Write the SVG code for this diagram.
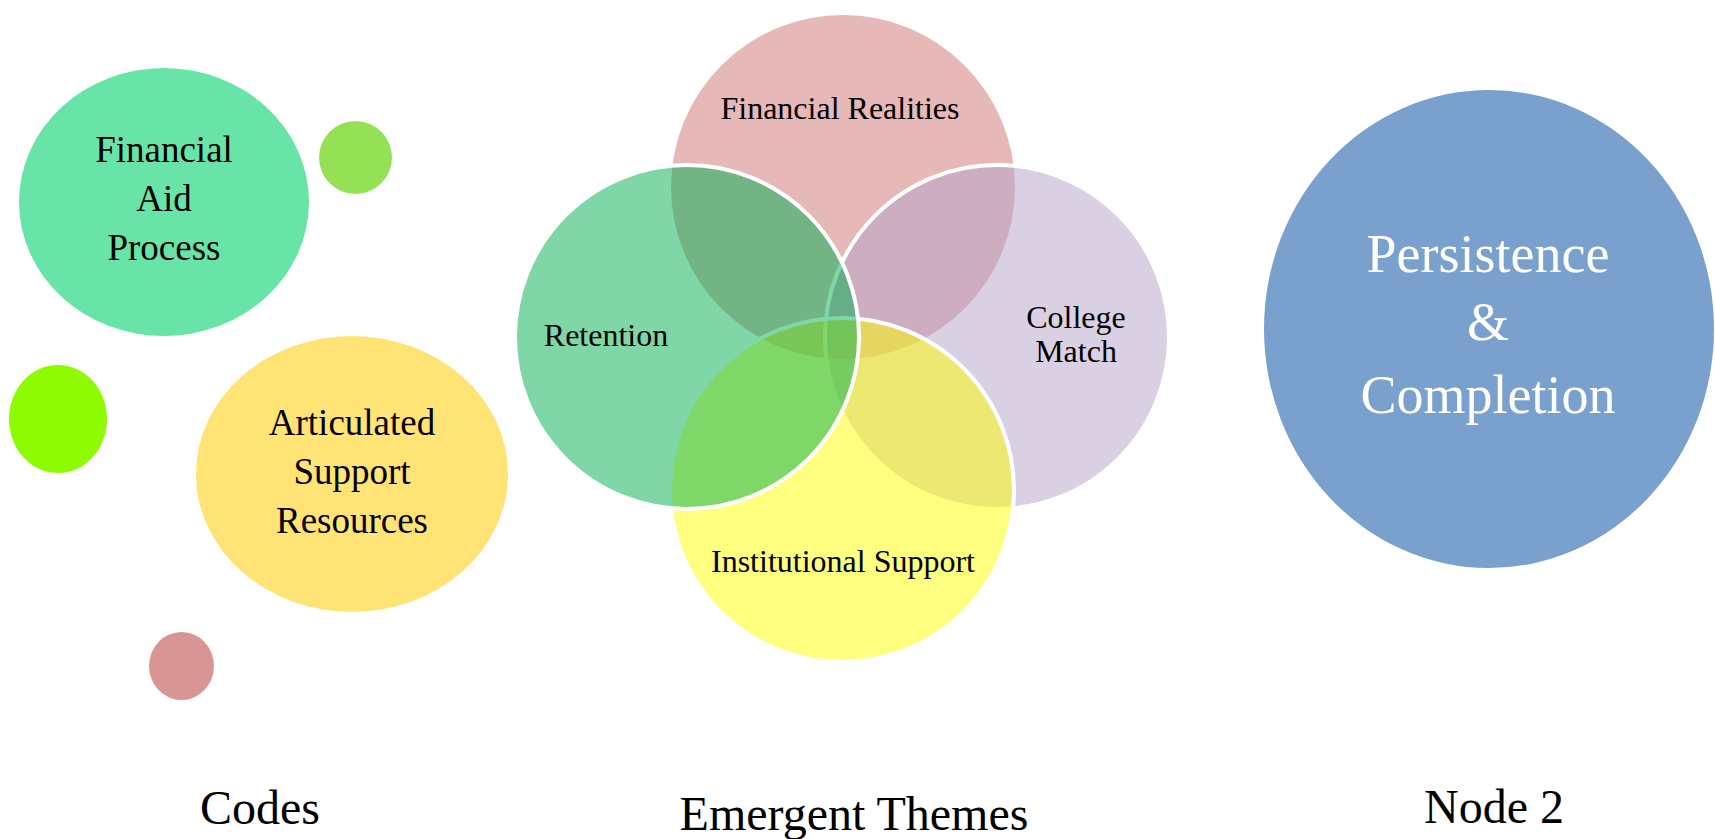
<svg xmlns="http://www.w3.org/2000/svg" width="1715" height="839" viewBox="0 0 1715 839">
  <style>
    text { font-family: "Liberation Serif", "Times New Roman", serif; text-anchor: middle; fill: #000; }
    .code { font-size: 37px; }
    .theme { font-size: 32px; }
    .caption { font-size: 48px; }
    .big { font-size: 54px; fill: #fff; }
    .venn { stroke: #fff; stroke-width: 4; fill-opacity: 0.5; }
  </style>
  <rect width="1715" height="839" fill="#fff"/>

  <!-- Codes column -->
  <g id="code-financial-aid">
    <ellipse cx="164" cy="202" rx="145" ry="134" fill="#69E4A9"/>
    <text class="code" x="164" y="162">Financial</text>
    <text class="code" x="164" y="211">Aid</text>
    <text class="code" x="164" y="260">Process</text>
  </g>
  <g id="code-dot-green">
    <ellipse cx="355.5" cy="157.5" rx="36.5" ry="36.5" fill="#95E155"/>
  </g>
  <g id="code-dot-lime">
    <ellipse cx="58" cy="419" rx="49" ry="54" fill="#8EFB03"/>
  </g>
  <g id="code-articulated-support">
    <ellipse cx="352" cy="474" rx="156" ry="138" fill="#FFE375"/>
    <text class="code" x="352" y="435">Articulated</text>
    <text class="code" x="352" y="484">Support</text>
    <text class="code" x="352" y="533">Resources</text>
  </g>
  <g id="code-dot-rose">
    <ellipse cx="181.5" cy="666" rx="32.5" ry="34" fill="#D99594"/>
  </g>

  <!-- Emergent themes: overlapping circles -->
  <g id="theme-financial-realities">
    <circle cx="843" cy="187" r="172" fill="#E6B9B8"/>
  </g>
  <g id="theme-college-match">
    <circle class="venn" cx="997" cy="337" r="172" fill="#B3A2C7"/>
  </g>
  <g id="theme-institutional-support">
    <circle class="venn" cx="842" cy="490" r="172" fill="#FFFF00"/>
  </g>
  <g id="theme-retention">
    <circle class="venn" cx="687" cy="337" r="172" fill="#00B050"/>
  </g>
  <g id="theme-labels">
    <text class="theme" x="840" y="119">Financial Realities</text>
    <text class="theme" x="606" y="346">Retention</text>
    <text class="theme" x="1076" y="328">College</text>
    <text class="theme" x="1076" y="362">Match</text>
    <text class="theme" x="843" y="572">Institutional Support</text>
  </g>

  <!-- Outcome -->
  <g id="node-persistence">
    <ellipse cx="1489" cy="329" rx="225" ry="239" fill="#7AA0CD"/>
    <text class="big" x="1488" y="272">Persistence</text>
    <text class="big" x="1488" y="340">&amp;</text>
    <text class="big" x="1488" y="413">Completion</text>
  </g>

  <!-- Column captions -->
  <g id="captions">
    <text class="caption" x="260" y="824">Codes</text>
    <text class="caption" x="854" y="830">Emergent Themes</text>
    <text class="caption" x="1494" y="823">Node 2</text>
  </g>

  <g id="connectors"/>
</svg>
